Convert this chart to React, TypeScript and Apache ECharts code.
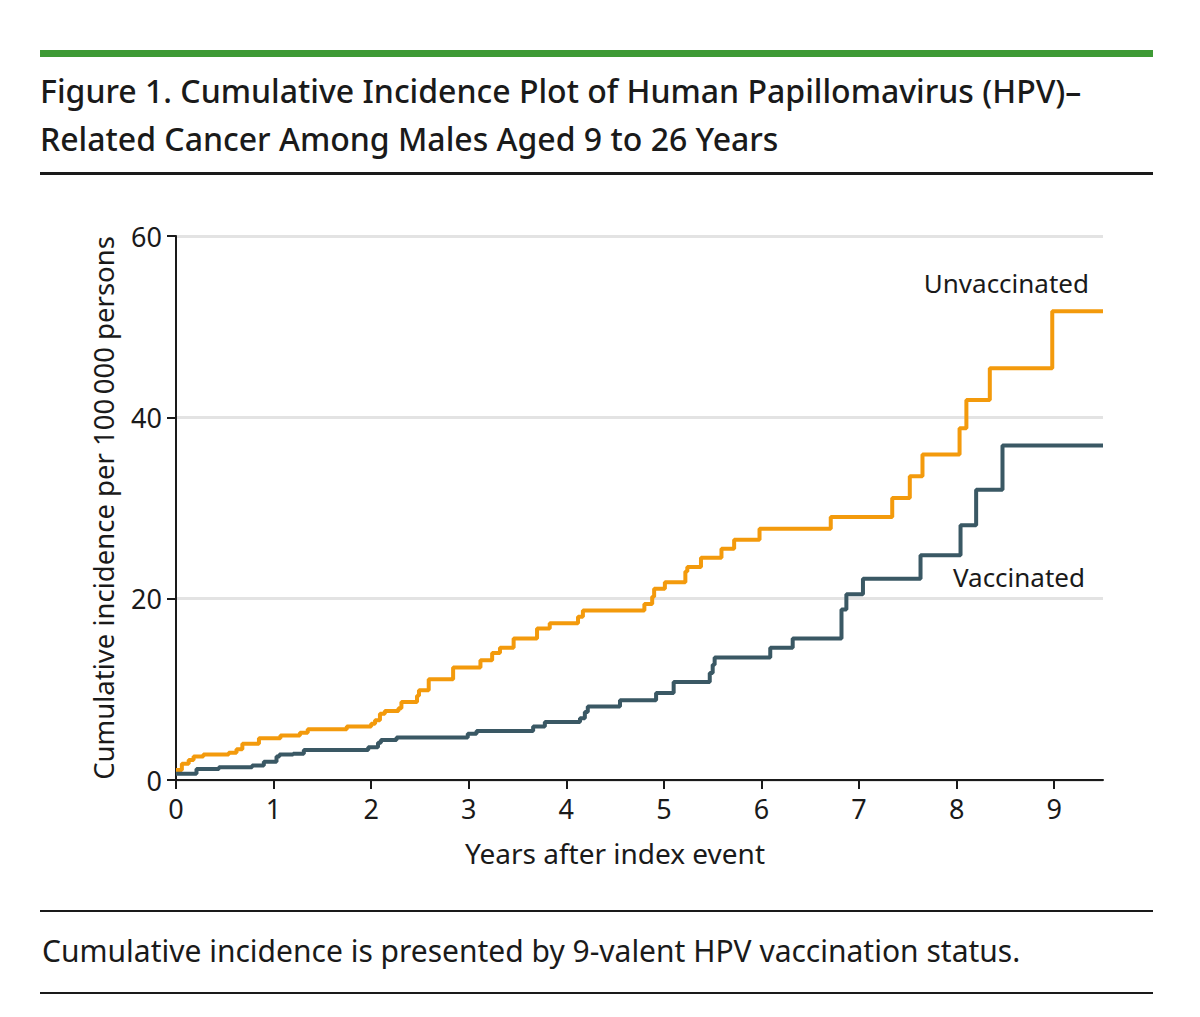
import React, { useEffect, useRef } from "react";
import * as echarts from "echarts";

// years after index event -> cumulative incidence per 100 000 (value after each step)
const unvaccinatedYears = [0, 0.06, 0.13, 0.18, 0.28, 0.54, 0.62, 0.68, 0.85, 1.07, 1.27, 1.35, 1.75, 2.0, 2.04, 2.09, 2.14, 2.28, 2.31, 2.47, 2.49, 2.59, 2.84, 3.12, 3.24, 3.32, 3.46, 3.7, 3.83, 4.12, 4.17, 4.8, 4.88, 4.9, 5.01, 5.22, 5.24, 5.38, 5.59, 5.72, 5.98, 6.71, 7.34, 7.52, 7.65, 8.03, 8.1, 8.34, 8.98, 9.5];
const unvaccinatedValues = [1.1, 1.8, 2.2, 2.6, 2.8, 3.0, 3.4, 4.0, 4.6, 4.9, 5.2, 5.6, 5.9, 6.2, 6.6, 7.3, 7.6, 7.9, 8.6, 9.3, 9.9, 11.1, 12.4, 13.2, 14.0, 14.6, 15.6, 16.7, 17.3, 18.0, 18.7, 19.4, 20.2, 21.1, 21.8, 23.0, 23.5, 24.5, 25.5, 26.5, 27.7, 29.0, 31.1, 33.5, 35.9, 38.8, 41.9, 45.4, 51.7, 51.7];

const vaccinatedYears = [0, 0.21, 0.44, 0.78, 0.9, 1.03, 1.06, 1.2, 1.31, 1.97, 2.07, 2.1, 2.26, 2.99, 3.08, 3.66, 3.78, 4.14, 4.19, 4.22, 4.55, 4.92, 5.1, 5.47, 5.5, 5.52, 6.09, 6.32, 6.82, 6.87, 7.04, 7.63, 8.04, 8.2, 8.47, 9.5];
const vaccinatedValues = [0.7, 1.2, 1.4, 1.6, 2.0, 2.6, 2.8, 2.9, 3.3, 3.6, 4.1, 4.4, 4.7, 5.1, 5.4, 5.9, 6.4, 6.8, 7.5, 8.1, 8.8, 9.6, 10.8, 11.8, 12.7, 13.5, 14.6, 15.6, 18.8, 20.5, 22.2, 24.8, 28.1, 32.0, 36.9, 36.9];

const xTicks = [0, 1, 2, 3, 4, 5, 6, 7, 8, 9];
const yTicks = [0, 20, 40, 60];

const ORANGE = "#F39A0C";
const SLATE = "#3A5864";
const FONT = "'Noto Sans', 'Open Sans', sans-serif";
const INK = "#1a1a1a";

const App: React.FC = () => {
  const chartRef = useRef<HTMLDivElement | null>(null);

  useEffect(() => {
    if (!chartRef.current) return;
    const chart = echarts.init(chartRef.current, null, { renderer: "svg" });

    const option = {
      animation: false,
      backgroundColor: "#ffffff",
      title: {
        text: "Figure 1. Cumulative Incidence Plot of Human Papillomavirus (HPV)–\nRelated Cancer Among Males Aged 9 to 26 Years",
        left: 40,
        top: 66,
        padding: 0,
        textStyle: {
          fontFamily: FONT,
          fontSize: 32,
          fontWeight: 500,
          lineHeight: 48,
          color: INK,
        },
      },
      grid: { left: 176, right: 97, top: 236, bottom: 237, containLabel: false },
      xAxis: {
        type: "value",
        min: 0,
        max: 9.5,
        interval: 1,
        axisLine: { lineStyle: { color: INK, width: 2 } },
        axisTick: { customValues: xTicks, length: 9, lineStyle: { color: INK, width: 2 } },
        axisLabel: { customValues: xTicks, margin: 15, fontFamily: FONT, fontSize: 27, color: INK },
        splitLine: { show: false },
      },
      yAxis: {
        type: "value",
        min: 0,
        max: 60,
        interval: 20,
        name: "Cumulative incidence per 100\u2009000 persons",
        nameLocation: "middle",
        nameGap: 59,
        nameTextStyle: { fontFamily: FONT, fontSize: 27.5, color: INK },
        axisLine: { show: true, lineStyle: { color: INK, width: 2 } },
        axisTick: { show: true, customValues: yTicks, length: 9, lineStyle: { color: INK, width: 2 } },
        axisLabel: { customValues: yTicks, margin: 14, fontFamily: FONT, fontSize: 27, color: INK },
        splitLine: { lineStyle: { color: "#e3e3e3", width: 3 } },
      },
      series: [
        {
          name: "Unvaccinated",
          type: "line",
          step: "end",
          showSymbol: false,
          lineStyle: { color: ORANGE, width: 4 },
          data: unvaccinatedYears.map((t, i) => [t, unvaccinatedValues[i]]),
          z: 3,
        },
        {
          name: "Vaccinated",
          type: "line",
          step: "end",
          showSymbol: false,
          lineStyle: { color: SLATE, width: 4 },
          data: vaccinatedYears.map((t, i) => [t, vaccinatedValues[i]]),
          z: 4,
        },
      ],
      graphic: [
        { type: "rect", shape: { x: 40, y: 50, width: 1113, height: 7 }, style: { fill: "#3E9A35" } },
        { type: "rect", shape: { x: 40, y: 172, width: 1113, height: 3 }, style: { fill: INK } },
        { type: "rect", shape: { x: 40, y: 910, width: 1113, height: 2 }, style: { fill: INK } },
        { type: "rect", shape: { x: 40, y: 992, width: 1113, height: 2 }, style: { fill: INK } },
        {
          type: "text",
          x: 615,
          y: 853,
          style: { text: "Years after index event", align: "center", verticalAlign: "middle", fontFamily: FONT, fontSize: 28, fill: INK },
        },
        {
          type: "text",
          x: 1089,
          y: 283,
          style: { text: "Unvaccinated", align: "right", verticalAlign: "middle", fontFamily: FONT, fontSize: 26, fill: INK },
        },
        {
          type: "text",
          x: 1085,
          y: 577,
          style: { text: "Vaccinated", align: "right", verticalAlign: "middle", fontFamily: FONT, fontSize: 26, fill: INK },
        },
        {
          type: "text",
          x: 42,
          y: 950,
          style: {
            text: "Cumulative incidence is presented by 9-valent HPV vaccination status.",
            verticalAlign: "middle",
            fontFamily: FONT,
            fontSize: 30,
            fill: INK,
          },
        },
      ],
    };

    chart.setOption(option);
    const handleResize = () => chart.resize();
    window.addEventListener("resize", handleResize);
    return () => {
      window.removeEventListener("resize", handleResize);
      chart.dispose();
    };
  }, []);

  return (
    <div
      ref={chartRef}
      style={{ position: "absolute", left: 0, top: 0, width: "1200px", height: "1017px" }}
    />
  );
};

export default App;
